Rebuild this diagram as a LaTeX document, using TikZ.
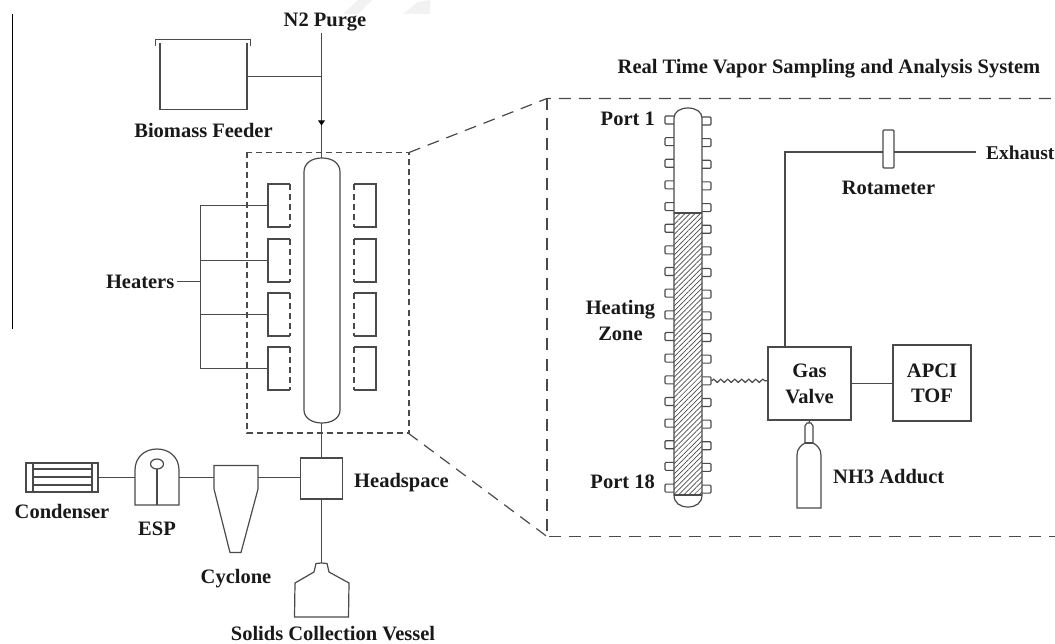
\documentclass[tikz,border=0pt]{standalone}
\usepackage{fontspec}
\setmainfont{Liberation Serif}
\usetikzlibrary{positioning,patterns.meta,decorations.pathmorphing}
\definecolor{linecol}{HTML}{4A4A4A}
\tikzstyle{lab}=[inner sep=2pt,align=center,font=\fontsize{20.5}{26}\selectfont\bfseries,text=black!90]
\tikzstyle{pipe}=[draw=linecol,line width=1.2pt]
\tikzstyle{eqbox}=[rectangle,draw=linecol,line width=1.3pt,inner sep=0pt,align=center,font=\fontsize{20.5}{26}\selectfont\bfseries,text=black!90]
\tikzstyle{ghost}=[rectangle,inner sep=0pt,outer sep=0pt]
\tikzstyle{htr}=[ghost,minimum width=22pt,minimum height=43pt]
\tikzstyle{smalldash}=[pipe,dash pattern=on 6pt off 4pt]
\tikzstyle{bigdash}=[pipe,dash pattern=on 12pt off 8pt]
\tikzstyle{portbox}=[rectangle,draw=linecol,line width=1.1pt,rounded corners=1pt,minimum width=11pt,minimum height=8pt,inner sep=0pt]
\begin{document}
\begin{tikzpicture}[x=1pt,y=-1pt]
\useasboundingbox (0,0) rectangle (1055,644);
% faint marks and side rule
\fill[black!5] (343,14) -- (358,0) -- (372,0) -- (358,14) -- cycle;
\fill[black!5] (403,14) -- (418,2) -- (430,0) -- (430,14) -- cycle;
\draw[black,line width=1pt] (12.5,14) -- (12.5,329);

% feeder and purge
\node[lab] (purge) at (325,22) {N2 Purge};
\node[ghost,minimum width=87pt,minimum height=66pt] (feeder) at (203.5,76.5) {};
\draw[pipe] (155.5,46) -- (155.5,39.5) -- (250.5,39.5) -- (250.5,46);
\draw[pipe] (feeder.north west) -- (feeder.south west) -- (feeder.south east) -- (feeder.north east);
\node[lab,below=12pt of feeder] (feederlab) {Biomass Feeder};
\coordinate (tee) at (321.5,76.5);
\draw[pipe] (feeder.east) -- (tee);

% reactor
\node[ghost,minimum width=36pt,minimum height=265pt] (reactor) at (322,290.5) {};
\draw[pipe] (304,410) -- (304,172)
  .. controls (304,163) and (312,158) .. (reactor.north)
  .. controls (332,158) and (340,163) .. (340,172) -- (340,410)
  .. controls (340,418) and (332,423) .. (reactor.south)
  .. controls (312,423) and (304,418) .. (304,410);
\draw[pipe] (tee |- purge.south) -- (tee) -- (tee |- reactor.north);
\fill[black] (318,120.5) -- (325,120.5) -- (321.5,125.5) -- cycle;

% heaters
\draw[smalldash] (247,152.5) rectangle (409,433);
\coordinate (hbus) at (200.5,281.5);
\foreach \i/\yy in {1/205.5,2/260.5,3/314.5,4/368.5}{
  \node[htr] (hl\i) at (279,\yy) {};
  \node[htr] (hr\i) at (365,\yy) {};
  \draw[pipe] (hl\i.north east) -- (hl\i.north west) -- (hl\i.south west) -- (hl\i.south east);
  \draw[smalldash] (hl\i.north east) -- (hl\i.south east);
  \draw[pipe] (hr\i.north west) -- (hr\i.north east) -- (hr\i.south east) -- (hr\i.south west);
  \draw[smalldash] (hr\i.north west) -- (hr\i.south west);
  \draw[pipe] (hl\i.west) -| (hbus);
}
\node[lab,left=24pt of hbus] (heaters) {Heaters};
\draw[pipe] (heaters) -- (hbus);

% lower train
\node[eqbox,minimum width=42pt,minimum height=41pt] (head) at (321.5,478.5) {};
\node[lab,anchor=west] (headlab) at (352,483) {Headspace};
\node[ghost,minimum width=44pt,minimum height=87pt] (cyclone) at (236,509) {};
\draw[pipe] (cyclone.north west) -- (cyclone.north east) -- (258,489) -- (241,552.5) -- (230,552.5) -- (214,489) -- cycle;
\node[lab,below=15pt of cyclone] (cyclab) {Cyclone};
\node[ghost,minimum width=44pt,minimum height=56pt] (esp) at (157,477) {};
\draw[pipe] (esp.south west) -- (135,470) .. controls (135,457) and (145,449) .. (esp.north)
  .. controls (169,449) and (179,457) .. (179,470) -- (esp.south east) -- cycle;
\draw[pipe] (157,464) ellipse (6.5pt and 5pt);
\draw[pipe] (157,469) -- (esp.south);
\node[lab,below=15pt of esp] (esplab) {ESP};
\node[eqbox,minimum width=72pt,minimum height=29pt] (cond) at (62,477.5) {};
\draw[pipe] (33,463) -- (33,492) (92,463) -- (92,492);
\draw[pipe] (33,469) -- (92,469) (33,477) -- (92,477) (33,485) -- (92,485);
\node[lab,below=9pt of cond] (condlab) {Condenser};
\draw[pipe] (cond.east) -- (esp.west |- cond.east);
\draw[pipe] (esp.east |- cond.east) -- (cyclone.west |- cond.east);
\draw[pipe] (cyclone.east |- cond.east) -- (head.west |- cond.east);
\draw[pipe] (tee |- reactor.south) -- (head.north);
\node[ghost,minimum width=54pt,minimum height=54pt] (vessel) at (321.5,590) {};
\draw[pipe] (vessel.south west) -- (295,583) -- (314,572) -- (316,563.5) -- (vessel.north) -- (327,563.5) -- (329,572) -- (349,583) -- (vessel.south east) -- cycle;
\draw[pipe] (head.south) -- (vessel.north);
\node[lab] (vessellab) at (333,634) {Solids Collection Vessel};

% zoom lines and inset frame
\coordinate (ina) at (547,98.5);
\coordinate (inb) at (547,536.5);
\draw[bigdash] (409,152.5) -- (ina) -- (1055,98.5);
\draw[bigdash] (ina) -- (inb) -- (1055,536.5);
\draw[bigdash] (408,433) -- (inb);
\node[lab] (title) at (829,69) {Real Time Vapor Sampling and Analysis System};

% sampling column with ports
\foreach \i in {1,...,18}{
  \node[portbox] (pl\i) at (670.5,{120+21.65*(\i-1)}) {};
  \node[portbox] (pr\i) at (705.5,{121+21.65*(\i-1)}) {};
}
\node[ghost,minimum width=28pt,minimum height=399pt] (column) at (688,307.5) {};
\fill[white] (674,118) .. controls (674,112) and (680,108) .. (column.north)
  .. controls (696,108) and (702,112) .. (702,118) -- (702,495) .. controls (702,503) and (696,507) .. (column.south)
  .. controls (680,507) and (674,503) .. (674,495) -- cycle;
\fill[pattern={Lines[angle=45,distance=3.6pt,line width=.7pt]},pattern color=linecol] (674,213) rectangle (702,495);
\draw[pipe] (674,118) .. controls (674,112) and (680,108) .. (column.north)
  .. controls (696,108) and (702,112) .. (702,118) -- (702,495) .. controls (702,503) and (696,507) .. (column.south)
  .. controls (680,507) and (674,503) .. (674,495) -- cycle;
\draw[pipe] (674,213) -- (702,213) (674,495) -- (702,495);
\node[lab,anchor=east] (port1) at (657,119) {Port 1};
\node[lab,anchor=east] (port18) at (657,482) {Port 18};
\node[lab] (zone) at (620.5,320) {Heating\\Zone};

% analysis side
\node[eqbox,minimum width=83pt,minimum height=73pt] (valve) at (809.5,383.5) {Gas\\Valve};
\node[eqbox,minimum width=78pt,minimum height=76pt,font=\fontsize{20.5}{25}\selectfont\bfseries] (tof) at (932,383) {APCI\\TOF};
\draw[pipe] (valve.east) -- (tof.west |- valve.east);
\draw[pipe,decorate,decoration={snake,amplitude=1.6pt,segment length=7pt}] (pr13.east) -- (valve.west |- pr13.east);
\node[ghost,minimum width=11pt,minimum height=38pt,draw=linecol,line width=1.1pt,rounded corners=1pt] (rota) at (888.5,149) {};
\node[lab,below=11pt of rota] (rotalab) {Rotameter};
\node[lab,anchor=west,font=\fontsize{19.5}{24}\selectfont\bfseries] (exhaust) at (984,153) {Exhaust};
\coordinate (elbow) at (785,152);
\draw[pipe] (elbow |- valve.north) -- (elbow) -- (rota.west |- elbow);
\draw[pipe] (rota.east |- elbow) -- (976,152);
\node[ghost,minimum width=24pt,minimum height=85pt] (cyl) at (809,465.5) {};
\draw[pipe] (cyl.south west) -- (797,455) .. controls (797,449) and (801,445) .. (805,443)
  -- (805,426) -- (807,423) -- (cyl.north) -- (811,423) -- (813,426) -- (813,443)
  .. controls (817,445) and (821,449) .. (821,455) -- (cyl.south east) -- cycle;
\draw[pipe] (805,443) -- (813,443);
\draw[pipe] (valve.south) -- (cyl.north);
\node[lab,anchor=west] (nh3) at (831,477) {NH3 Adduct};
\end{tikzpicture}
\end{document}
